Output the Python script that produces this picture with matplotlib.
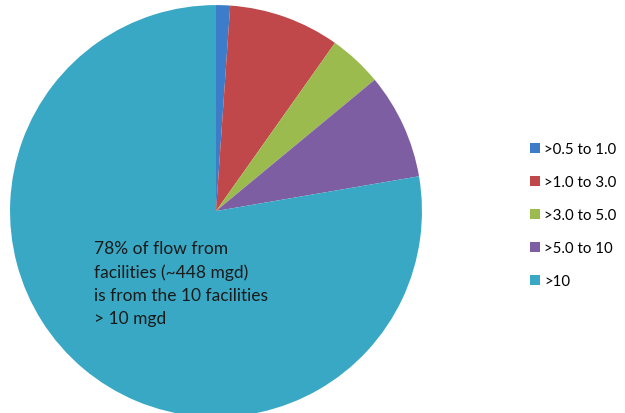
import matplotlib.pyplot as plt

# share of flow by facility size (mgd)
labels = [">0.5 to 1.0", ">1.0 to 3.0", ">3.0 to 5.0", ">5.0 to 10", ">10"]
shares = [1.1, 8.7, 4.2, 8.3, 77.7]
colors = ["#3d7cc9", "#c0474a", "#9bbb4f", "#7e5ea3", "#38a8c4"]

plt.rcParams["font.family"] = ["Lato", "DejaVu Sans"]

fig = plt.figure(figsize=(6.25, 4.14), dpi=100)
ax = fig.add_axes([0.016, -0.0097, 0.6592, 0.995])

wedges, _ = ax.pie(shares, colors=colors, startangle=90, counterclock=False,
                   radius=1.0, wedgeprops=dict(linewidth=0))
ax.set_xlim(-1, 1)
ax.set_ylim(-1, 1)
ax.set_aspect("equal")
ax.axis("off")

ax.text(-0.59, -0.14,
        "78% of flow from\nfacilities (~448 mgd)\nis from the 10 facilities\n> 10 mgd",
        fontsize=12.5, color="#1a1a1a", ha="left", va="top", linespacing=1.55)

fig.legend(wedges, labels, loc="center left", bbox_to_anchor=(0.838, 0.478),
           frameon=False, fontsize=10.8, handlelength=0.65, handleheight=0.65,
           handletextpad=0.3, labelspacing=1.27, borderaxespad=0)

fig.savefig("out.png", dpi=100)
